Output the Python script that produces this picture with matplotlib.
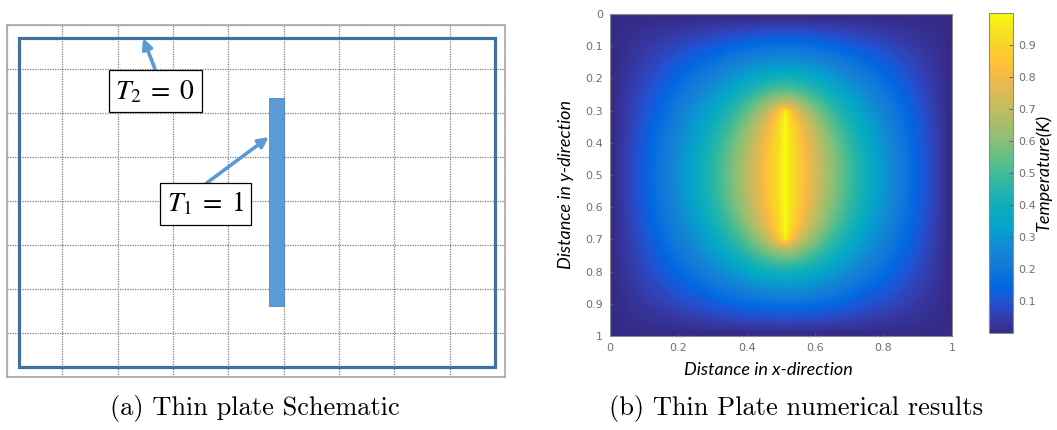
import numpy as np
import matplotlib
matplotlib.use("Agg")
import matplotlib.pyplot as plt
from matplotlib.patches import Rectangle
from matplotlib.colors import LinearSegmentedColormap

# ---- data ----
grid_cols = 9            # schematic grid cells across
grid_rows = 8            # schematic grid cells down
t_hot = 1.0              # T1, heated strip
t_cold = 0.0             # T2, plate edges
src_x = 0.51             # strip position (x)
src_y = [0.3, 0.7]       # strip extent (y)
n_nodes = 81
x_ticks = [0, 0.2, 0.4, 0.6, 0.8, 1]
y_ticks = [0, 0.1, 0.2, 0.3, 0.4, 0.5, 0.6, 0.7, 0.8, 0.9, 1]
cbar_ticks = [0.1, 0.2, 0.3, 0.4, 0.5, 0.6, 0.7, 0.8, 0.9]

# parula-like colormap
parula = [
    (0.2081, 0.1663, 0.5292), (0.2081, 0.2386, 0.6771), (0.1253, 0.3242, 0.8303),
    (0.0060, 0.4086, 0.8828), (0.0629, 0.4737, 0.8554), (0.0793, 0.5200, 0.8312),
    (0.0343, 0.5966, 0.8199), (0.0228, 0.6535, 0.7768), (0.0590, 0.6838, 0.7254),
    (0.1453, 0.7098, 0.6646), (0.2586, 0.7317, 0.5954), (0.3953, 0.7459, 0.5244),
    (0.5300, 0.7491, 0.4661), (0.6473, 0.7456, 0.4188), (0.7525, 0.7384, 0.3768),
    (0.8507, 0.7299, 0.3360), (0.9450, 0.7261, 0.2886), (0.9990, 0.7653, 0.2164),
    (0.9789, 0.8271, 0.1633), (0.9589, 0.8949, 0.1132), (0.9763, 0.9831, 0.0538),
]
cmap = LinearSegmentedColormap.from_list("parula", parula, N=256)

# ---- solve Laplace on the plate (Jacobi) ----
xs = np.linspace(0, 1, n_nodes)
T = np.full((n_nodes, n_nodes), t_cold)
col = np.argmin(np.abs(xs - src_x))
rows = np.where((xs >= src_y[0] - 1e-9) & (xs <= src_y[1] + 1e-9))[0]
for _ in range(20000):
    T[1:-1, 1:-1] = 0.25 * (T[:-2, 1:-1] + T[2:, 1:-1] + T[1:-1, :-2] + T[1:-1, 2:])
    T[rows, col] = t_hot

W, H = 1057, 430
fig = plt.figure(figsize=(W / 100, H / 100), dpi=100)
plt.rcParams['mathtext.fontset'] = 'stix'

# ---- (a) schematic ----
ax1 = fig.add_axes([7 / W, 1 - 377 / H, 498 / W, 352 / H])
ax1.set_xlim(0, grid_cols)
ax1.set_ylim(grid_rows, 0)
ax1.set_xticks(range(grid_cols + 1))
ax1.set_yticks(range(grid_rows + 1))
ax1.tick_params(length=0, labelbottom=False, labelleft=False)
ax1.grid(True, linestyle=(0, (1, 1)), color='#7f7f7f', linewidth=0.9)
for s in ax1.spines.values():
    s.set_linestyle((0, (1, 1)))
    s.set_color('#a8a8a8')
    s.set_linewidth(1.2)
ax1.add_patch(Rectangle((0.217, 0.295), 8.6, 7.475, fill=False,
                        edgecolor='#41719C', linewidth=2.3, zorder=3))
ax1.add_patch(Rectangle((4.735, 1.66), 0.27, 4.73, facecolor='#5B9BD5',
                        edgecolor='#4A88C0', linewidth=0.6, zorder=3))

box = dict(boxstyle='square,pad=0.25', facecolor='white', edgecolor='black', linewidth=0.9)
arrow = dict(arrowstyle='-|>,head_length=0.6,head_width=0.3', color='#5B9BD5',
             lw=2.6, shrinkA=0, shrinkB=0)
ax1.annotate('', xy=(2.46, 0.30), xytext=(2.675, 1.0), arrowprops=arrow, zorder=4)
ax1.text(2.68, 1.51, r'$T_2\;=\;0$', fontsize=20, ha='center', va='center', bbox=box, zorder=5)
ax1.annotate('', xy=(4.73, 2.545), xytext=(3.61, 3.59), arrowprops=arrow, zorder=4)
ax1.text(3.59, 4.06, r'$T_1\;=\;1$', fontsize=20, ha='center', va='center', bbox=box, zorder=5)

# ---- (b) numerical results ----
ax2 = fig.add_axes([610 / W, 1 - 336 / H, 342 / W, 322 / H])
im = ax2.imshow(T, cmap=cmap, vmin=0, vmax=1, extent=(0, 1, 1, 0),
                interpolation='bilinear', aspect='auto')
ax2.set_xticks(x_ticks)
ax2.set_xticklabels(['0', '0.2', '0.4', '0.6', '0.8', '1'])
ax2.set_yticks(y_ticks)
ax2.set_yticklabels(['0'] + ['%.1f' % v for v in y_ticks[1:-1]] + ['1'])
ax2.tick_params(direction='in', length=3, labelsize=8, labelcolor='#707070',
                color='#555555', width=0.6, pad=5)
for s in ax2.spines.values():
    s.set_color('#8c8c8c')
    s.set_linewidth(0.8)
lab = dict(family='Lato', style='italic', fontsize=13)
ax2.set_xlabel('Distance in x-direction', **lab)
ax2.set_ylabel('Distance in y-direction', **lab)
ax2.xaxis.set_label_coords((768 - 610) / 342, -0.08)
ax2.yaxis.set_label_coords(-0.104, 0.47)

cax = fig.add_axes([989 / W, 1 - 333 / H, 24 / W, 320 / H])
cb = fig.colorbar(im, cax=cax, ticks=cbar_ticks)
cb.ax.tick_params(direction='in', length=3, labelsize=8, labelcolor='#707070',
                  color='#555555', width=0.6)
cb.outline.set_edgecolor('#8c8c8c')
cb.set_label('Temperature(K)', labelpad=0, **lab)

# ---- captions ----
cap = dict(family='cmr10', fontsize=19, ha='center', va='center')
fig.text(255 / W, 1 - 409 / H, '(a) Thin plate Schematic', **cap)
fig.text(796 / W, 1 - 409 / H, '(b) Thin Plate numerical results', **cap)

fig.savefig('out.png', dpi=100)
